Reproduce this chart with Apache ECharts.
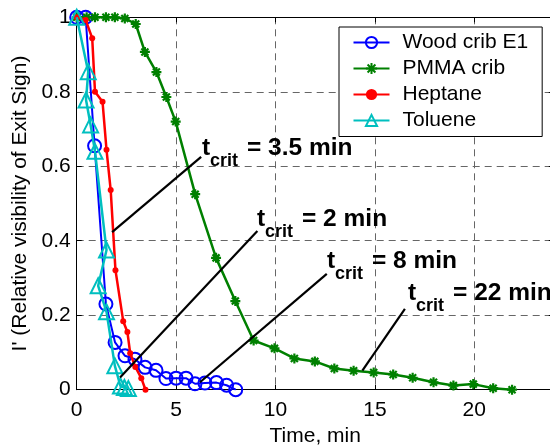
<!DOCTYPE html>
<html><head><meta charset="utf-8">
<script src="https://cdn.jsdelivr.net/npm/echarts@6/dist/echarts.min.js"></script>
<style>html,body{margin:0;padding:0;background:#fff}#c{width:550px;height:448px}</style>
</head><body><div id="c"></div>
<script>
// ---- data ----
const seriesNames = ['Wood crib E1', 'PMMA crib', 'Heptane', 'Toluene'];

const woodX = [0, 0.45, 0.9, 1.47, 1.93, 2.43, 2.93, 3.44, 3.99, 4.49, 5.0, 5.5, 5.95, 6.45, 7.03, 7.54, 8.0];
const woodY = [1, 1, 0.655, 0.23, 0.127, 0.091, 0.082, 0.06, 0.052, 0.03, 0.031, 0.031, 0.016, 0.018, 0.019, 0.012, 0.0];

const pmmaX = [0, 0.5, 0.92, 1.47, 1.92, 2.42, 2.97, 3.43, 4.01, 4.51, 4.98, 5.96, 7.01, 7.98, 8.9, 9.95, 10.95, 11.98, 12.96, 13.93, 14.94, 15.92, 16.9, 17.95, 18.95, 19.95, 20.95, 21.9];
const pmmaY = [1, 1, 1, 1, 1, 0.997, 0.982, 0.907, 0.853, 0.786, 0.72, 0.525, 0.354, 0.238, 0.132, 0.111, 0.084, 0.076, 0.057, 0.051, 0.046, 0.041, 0.032, 0.020, 0.011, 0.015, 0.004, 0.0];

const heptX = [0, 0.45, 0.78, 0.92, 1.3, 1.5, 1.71, 1.95, 2.34, 2.55, 2.69, 2.95, 3.25, 3.46];
const heptY = [1, 0.993, 0.944, 0.80, 0.773, 0.644, 0.536, 0.321, 0.184, 0.155, 0.098, 0.061, 0.031, 0.0];

const tolX = [0, 0.58, 0.47, 0.7, 0.92, 1.5, 1.08, 1.5, 1.92, 2.2, 2.4, 2.6];
const tolY = [1, 0.854, 0.778, 0.711, 0.64, 0.375, 0.279, 0.209, 0.064, 0.01, 0.006, 0.003];

const yTickLabels = ['0', '0.2', '0.4', '0.6', '0.8', '1'];
const xAxisTitle = 'Time, min';
const yAxisTitle = "I' (Relative visibility of Exit Sign)";
const annotTexts = ['= 3.5 min', '= 2 min', '= 8 min', '= 22 min'];

// ---- annotation layout (data-space anchors) ----
const annotLineStart = [[6.26, 0.625], [9.09, 0.426], [12.58, 0.311], [16.51, 0.217]];
const annotLineEnd   = [[1.78, 0.423], [2.18, 0.033], [6.2, 0.020], [14.37, 0.051]];
const annotTextAt    = [[6.30, 0.624], [9.07, 0.434], [12.59, 0.321], [16.67, 0.235]];

const FONT = '"Liberation Sans", Arial, Helvetica, sans-serif';
const FS = 21;
const zip = (xs, ys) => xs.map((x, i) => [x, ys[i]]);

const chart = echarts.init(document.getElementById('c'), null, {renderer: 'canvas'});

const gridColor = '#666';
const option = {
  animation: false,
  backgroundColor: '#fff',
  textStyle: {fontFamily: FONT},
  grid: {left: 76.7, right: -3.8, top: 17.3, bottom: 58.3, containLabel: false, outerBoundsMode: 'none'},
  legend: {
    orient: 'vertical', left: 339, top: 27,
    padding: [5, 14, 5.5, 13.5],
    backgroundColor: '#fff', borderColor: '#000', borderWidth: 1,
    itemWidth: 36, itemHeight: 14, itemGap: 5,
    textStyle: {fontSize: FS, color: '#000', fontFamily: FONT, padding: [0, 0, 0, 8]},
    data: seriesNames
  },
  xAxis: [{
    type: 'value', min: 0, max: 24, interval: 5,
    name: xAxisTitle, nameLocation: 'middle', nameGap: 36,
    nameTextStyle: {fontSize: FS, color: '#000', fontFamily: FONT},
    axisLine: {show: true, onZero: false, lineStyle: {color: '#000', width: 1}},
    axisTick: {show: true, inside: true, length: 5, lineStyle: {color: '#000'}},
    axisLabel: {fontSize: FS, color: '#000', margin: 10, showMaxLabel: false, fontFamily: FONT},
    splitLine: {show: true, lineStyle: {color: gridColor, type: [7, 5], width: 1}}
  }, {
    type: 'value', min: 0, max: 24, interval: 5, position: 'top',
    axisLine: {show: true, onZero: false, lineStyle: {color: '#000', width: 1}},
    axisTick: {show: true, inside: true, length: 5, lineStyle: {color: '#000'}},
    axisLabel: {show: false}, splitLine: {show: false}
  }],
  yAxis: [{
    type: 'value', min: 0, max: 1, interval: 0.2,
    name: yAxisTitle, nameLocation: 'middle', nameGap: 42,
    nameTextStyle: {fontSize: FS, color: '#000', fontFamily: FONT},
    axisLine: {show: true, onZero: false, lineStyle: {color: '#000', width: 1}},
    axisTick: {show: true, inside: true, length: 5, lineStyle: {color: '#000'}},
    axisLabel: {fontSize: FS, color: '#000', margin: 6, fontFamily: FONT,
      formatter: (v) => yTickLabels[Math.round(v / 0.2)]},
    splitLine: {show: true, lineStyle: {color: gridColor, type: [7, 5], width: 1}}
  }, {
    type: 'value', min: 0, max: 1, interval: 0.2, position: 'right',
    axisLine: {show: true, onZero: false, lineStyle: {color: '#000', width: 1}},
    axisTick: {show: true, inside: true, length: 5, lineStyle: {color: '#000'}},
    axisLabel: {show: false}, splitLine: {show: false}
  }],
  series: [
    {
      name: seriesNames[0], type: 'line', data: zip(woodX, woodY),
      symbol: 'circle', symbolSize: 13,
      lineStyle: {color: '#0000FF', width: 2},
      itemStyle: {color: 'rgba(0,0,0,0)', borderColor: '#0000FF', borderWidth: 2},
      z: 2
    },
    {
      name: seriesNames[1], type: 'line', data: zip(pmmaX, pmmaY),
      symbol: 'path://M0,-5L0,5M-5,0L5,0M-3.5,-3.5L3.5,3.5M-3.5,3.5L3.5,-3.5', symbolSize: 10,
      lineStyle: {color: '#008000', width: 2.5},
      itemStyle: {color: '#008000', borderColor: '#008000', borderWidth: 2.2},
      z: 3
    },
    {
      name: seriesNames[2], type: 'line', data: zip(heptX, heptY),
      symbol: 'circle', symbolSize: 6,
      lineStyle: {color: '#FF0000', width: 2.5},
      itemStyle: {color: '#FF0000', borderWidth: 0},
      z: 4
    },
    {
      name: seriesNames[3], type: 'line', data: zip(tolX, tolY),
      symbol: 'triangle', symbolSize: 15,
      lineStyle: {color: '#00BFBF', width: 2.5},
      itemStyle: {color: 'rgba(0,0,0,0)', borderColor: '#00BFBF', borderWidth: 2},
      z: 5
    }
  ]
};
chart.setOption(option);

// ---- annotations, anchored through the chart's own scales ----
const toPx = (p) => chart.convertToPixel({seriesIndex: 0}, p);
const g = [];
const MAIN = 24.5, SUB = 18;
annotTexts.forEach((txt, i) => {
  const s = toPx(annotLineStart[i]), e = toPx(annotLineEnd[i]), t = toPx(annotTextAt[i]);
  g.push({type: 'line', z: 100, shape: {x1: s[0], y1: s[1], x2: e[0], y2: e[1]},
    style: {stroke: '#000', lineWidth: 2.2}});
  g.push({type: 'text', z: 101, x: t[0], y: t[1] - 0.35 * MAIN,
    style: {text: 't', fontSize: MAIN, fontWeight: 'bold', fontFamily: FONT, fill: '#000', align: 'left', verticalAlign: 'middle'}});
  g.push({type: 'text', z: 101, x: t[0] + 8, y: t[1] + 10 - 0.35 * SUB,
    style: {text: 'crit', fontSize: SUB, fontWeight: 'bold', fontFamily: FONT, fill: '#000', align: 'left', verticalAlign: 'middle'}});
  g.push({type: 'text', z: 101, x: t[0] + 45, y: t[1] - 0.35 * MAIN,
    style: {text: txt, fontSize: MAIN, fontWeight: 'bold', fontFamily: FONT, fill: '#000', align: 'left', verticalAlign: 'middle'}});
});
chart.setOption({graphic: g});
</script>
</body></html>
